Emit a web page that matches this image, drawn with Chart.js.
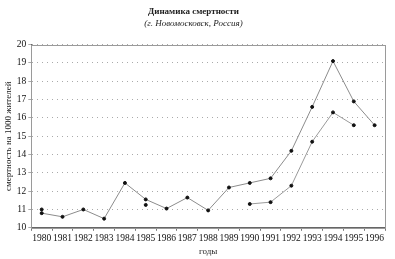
<!DOCTYPE html>
<html>
<head>
<meta charset="utf-8">
<script src="https://cdn.jsdelivr.net/npm/chart.js@4.4.0/dist/chart.umd.min.js"></script>
<style>
  body { margin: 0; background: #fff; }
  #wrap { width: 395px; height: 259px; }
</style>
</head>
<body>
<div id="wrap"><canvas id="deathChart" width="395" height="259"></canvas></div>
<script>
const years = ['1980', '1981', '1982', '1983', '1984', '1985', '1986', '1987', '1988',
  '1989', '1990', '1991', '1992', '1993', '1994', '1995', '1996'];
const upper = [10.8, 10.6, 11.0, 10.5, 12.45, 11.55, 11.05, 11.65, 10.95,
  12.2, 12.45, 12.7, 14.2, 16.6, 19.1, 16.9, 15.6];
const lower = [11.0, null, null, null, null, 11.25, null, null, null,
  null, 11.3, 11.4, 12.3, 14.7, 16.3, 15.6, null];
const yTicks = [10, 11, 12, 13, 14, 15, 16, 17, 18, 19, 20];

const serif = '"Liberation Serif", "DejaVu Serif", serif';

// box round the plot area
const frame = {
  id: 'frame',
  afterDraw(chart) {
    const a = chart.chartArea, c = chart.ctx;
    c.save();
    c.strokeStyle = '#9a9a9a';
    c.lineWidth = 1;
    c.strokeRect(Math.round(a.left) + 0.5, Math.round(a.top) + 0.5,
      Math.round(a.right - a.left), Math.round(a.bottom - a.top));
    c.restore();
  }
};

const ctx = document.getElementById('deathChart').getContext('2d');
new Chart(ctx, {
  type: 'line',
  data: {
    labels: years,
    datasets: [{
      label: 'upper',
      data: upper,
      borderColor: '#8c8c8c',
      borderWidth: 1,
      pointRadius: 1.5,
      pointBackgroundColor: '#111',
      pointBorderColor: '#111',
      tension: 0
    }, {
      label: 'lower',
      data: lower,
      borderColor: '#9a9a9a',
      borderWidth: 1,
      pointRadius: 1.5,
      pointBackgroundColor: '#111',
      pointBorderColor: '#111',
      spanGaps: false,
      tension: 0
    }]
  },
  options: {
    responsive: false,
    animation: false,
    layout: { padding: { left: 2, right: 10, top: 0, bottom: 2 } },
    plugins: {
      legend: { display: false },
      tooltip: { enabled: false },
      title: {
        display: true,
        text: 'Динамика смертности',
        color: '#222',
        font: { family: serif, size: 9, weight: 'bold' },
        padding: { top: 6, bottom: 1 }
      },
      subtitle: {
        display: true,
        text: '(г. Новомосковск, Россия)',
        color: '#222',
        font: { family: serif, size: 9, style: 'italic' },
        padding: { top: 0, bottom: 16 }
      }
    },
    scales: {
      x: {
        offset: true,
        grid: { display: true, drawOnChartArea: false, offset: true, tickLength: 3, color: '#777' },
        border: { color: '#666' },
        ticks: { color: '#111', font: { family: serif, size: 9.5 }, maxRotation: 0, autoSkip: false, padding: 2 },
        title: { display: true, text: 'годы', color: '#222', font: { family: serif, size: 9 }, padding: 0 }
      },
      y: {
        min: 10,
        max: 20,
        afterBuildTicks: axis => { axis.ticks = yTicks.map(v => ({ value: v })); },
        grid: { color: '#aaaaaa', tickLength: 3, lineWidth: 1 },
        border: { color: '#666', dash: [1, 4] },
        ticks: { color: '#111', font: { family: serif, size: 9.5 }, padding: 2 },
        title: { display: true, text: 'смертность на 1000 жителей', color: '#222', font: { family: serif, size: 9 }, padding: 1 }
      }
    }
  },
  plugins: [frame]
});
</script>
</body>
</html>
